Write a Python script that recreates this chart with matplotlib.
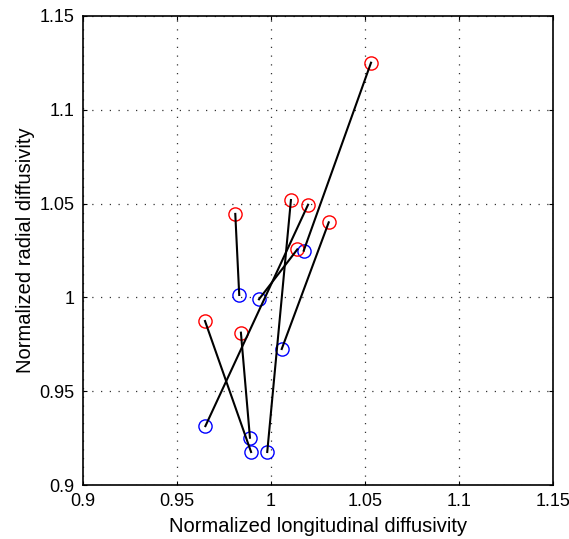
import numpy as np
import matplotlib
matplotlib.use('Agg')
import matplotlib.pyplot as plt

plt.rcParams['font.family'] = ['Liberation Sans', 'DejaVu Sans']

# Paired measurements: blue = before, red = after
blue_x = [0.9831, 0.9936, 1.0174, 1.0057, 0.9651, 0.9888, 0.9894, 0.9980]
blue_y = [1.0013, 0.9990, 1.0249, 0.9725, 0.9314, 0.9252, 0.9176, 0.9176]
red_x = [0.9810, 1.0140, 1.0532, 1.0307, 1.0197, 0.9840, 0.9649, 1.0106]
red_y = [1.0445, 1.0256, 1.1251, 1.0400, 1.0494, 0.9812, 0.9874, 1.0519]

ticks = [0.9, 0.95, 1.0, 1.05, 1.1, 1.15]
tick_labels = ['0.9', '0.95', '1', '1.05', '1.1', '1.15']

fig = plt.figure(figsize=(5.69, 5.39), dpi=100)
ax = fig.add_axes([83 / 569, 54 / 539, 470 / 569, 469 / 539])

for bx, by, rx, ry in zip(blue_x, blue_y, red_x, red_y):
    ax.plot([bx, rx], [by, ry], color='black', linewidth=1.5, zorder=3)

ax.plot(blue_x, blue_y, 'o', mfc='none', mec='blue', ms=9.5, mew=1.0, zorder=2)
ax.plot(red_x, red_y, 'o', mfc='none', mec='red', ms=9.5, mew=1.0, zorder=2)

ax.set_xlim(0.9, 1.15)
ax.set_ylim(0.9, 1.15)
ax.set_xticks(ticks)
ax.set_xticklabels(tick_labels)
ax.set_yticks(ticks)
ax.set_yticklabels(tick_labels)
ax.tick_params(direction='in', length=3, width=0.8, labelsize=13, pad=6,
               top=True, right=True)
ax.grid(True, color='#333333', linestyle=(0, (1, 6)), linewidth=0.9)
for s in ax.spines.values():
    s.set_linewidth(1.2)

ax.set_xlabel('Normalized longitudinal diffusivity', fontsize=14.5, labelpad=5)
ax.set_ylabel('Normalized radial diffusivity', fontsize=14.5, labelpad=3)

plt.savefig('out.png', dpi=100)
plt.close()
